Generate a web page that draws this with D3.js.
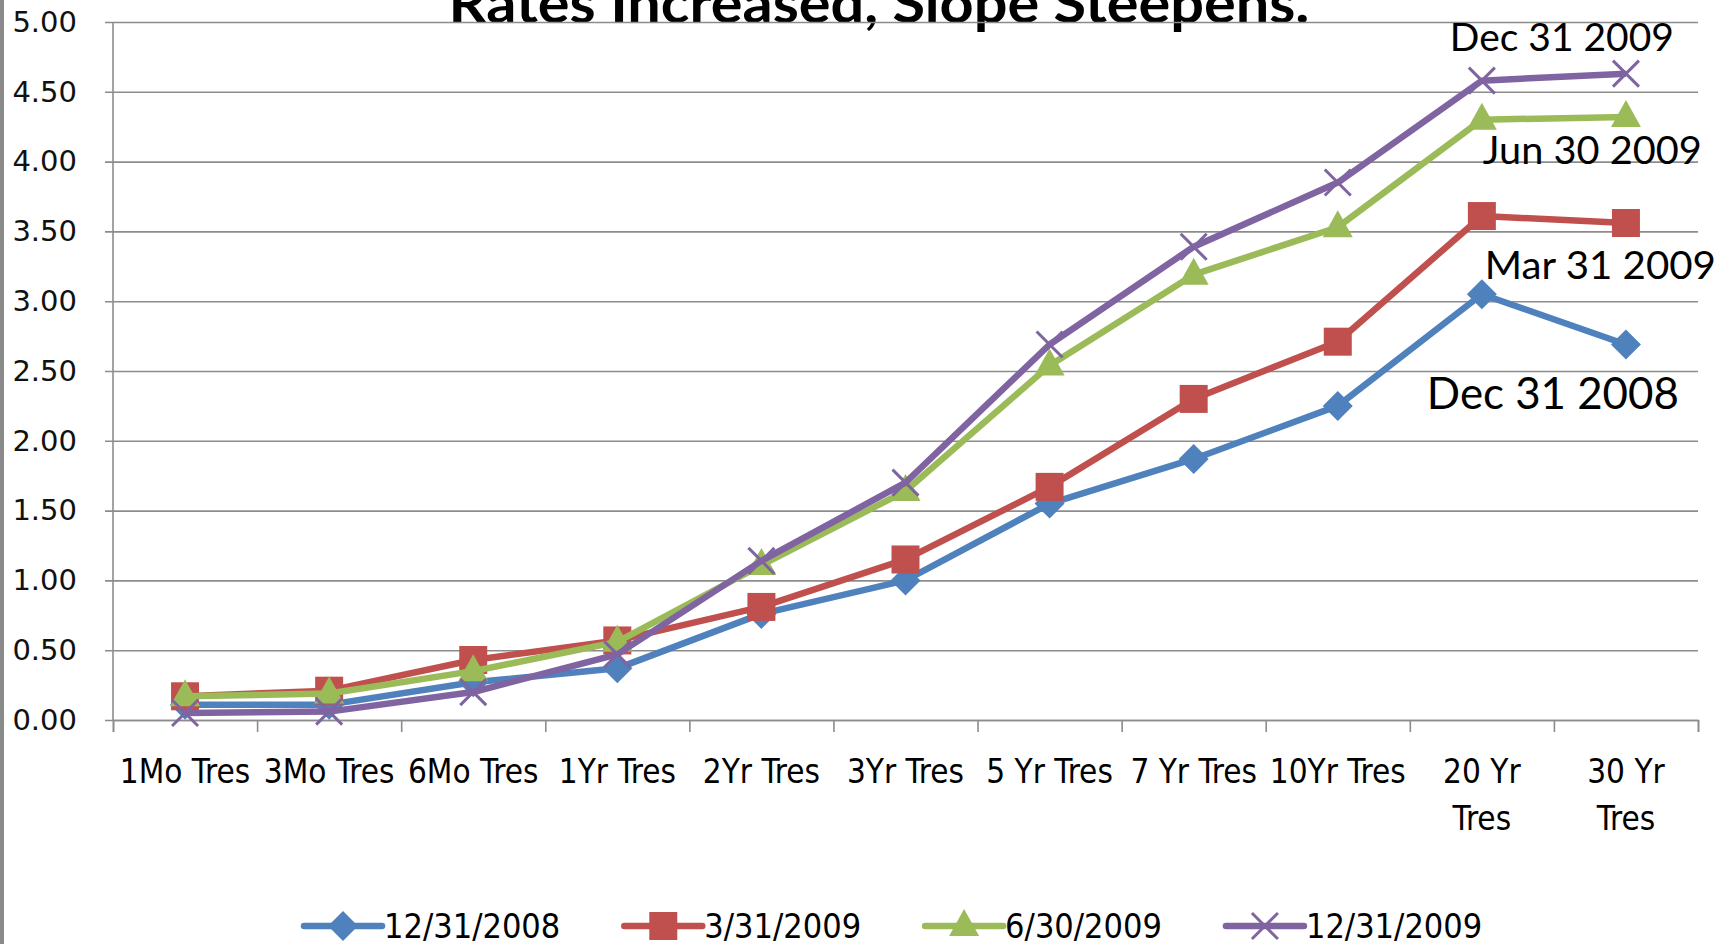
<!DOCTYPE html>
<meta charset="utf-8">
<script src="https://cdn.jsdelivr.net/npm/d3@7"></script>
<style>
  body { margin: 0; background: #fff; }
  svg { display: block; }
</style>
<body>
<script>

var width = 1735
var height = 944

// data
var categories = ["1Mo Tres", "3Mo Tres", "6Mo Tres", "1Yr Tres", "2Yr Tres", "3Yr Tres", "5 Yr Tres", "7 Yr Tres", "10Yr Tres", "20 Yr Tres", "30 Yr Tres"]
var categoryLines = [["1Mo Tres"], ["3Mo Tres"], ["6Mo Tres"], ["1Yr Tres"], ["2Yr Tres"], ["3Yr Tres"], ["5 Yr Tres"], ["7 Yr Tres"], ["10Yr Tres"], ["20 Yr", "Tres"], ["30 Yr", "Tres"]]
var seriesNames = ["12/31/2008", "3/31/2009", "6/30/2009", "12/31/2009"]
var dec2008 = [0.11, 0.11, 0.27, 0.37, 0.76, 1.00, 1.55, 1.87, 2.25, 3.05, 2.69]
var mar2009 = [0.17, 0.21, 0.43, 0.57, 0.81, 1.15, 1.67, 2.30, 2.71, 3.61, 3.56]
var jun2009 = [0.17, 0.19, 0.35, 0.56, 1.11, 1.64, 2.54, 3.19, 3.53, 4.30, 4.32]
var dec2009 = [0.05, 0.06, 0.20, 0.47, 1.14, 1.70, 2.69, 3.39, 3.85, 4.58, 4.63]
var yTicks = [0, 0.5, 1, 1.5, 2, 2.5, 3, 3.5, 4, 4.5, 5]
var title = "Rates Increased, Slope Steepens."
var callouts = ["Dec 31 2009", "Jun 30 2009", "Mar 31 2009", "Dec 31 2008"]

var colors = ["#4f81bd", "#c0504d", "#9bbb59", "#8064a2"]
var shapes = ["diamond", "square", "triangle", "x"]
var allSeries = [dec2008, mar2009, jun2009, dec2009]

var plotLeft = 113, plotRight = 1698, plotTop = 22, plotBottom = 720

var x = d3.scaleBand().domain(categories).range([plotLeft, plotRight])
var xEdge = d3.scaleLinear().domain([0, categories.length]).range([plotLeft, plotRight])
var y = d3.scaleLinear().domain([0, 5]).range([plotBottom, plotTop])

var svg = d3.select("body").append("svg")
  .attr("width", width)
  .attr("height", height)

// grey border on the left
svg.append("rect").attr("x", 0).attr("y", 0).attr("width", 4).attr("height", height).attr("fill", "#8a8a8a")

// title, cut off by top edge
svg.append("text")
  .attr("x", 879).attr("y", 23)
  .attr("text-anchor", "middle")
  .attr("textLength", 861).attr("lengthAdjust", "spacingAndGlyphs")
  .style("font-family", "Lato, 'Open Sans', sans-serif")
  .style("font-weight", "bold")
  .style("font-size", "56px")
  .text(title)

// gridlines
svg.append("g")
  .attr("transform", "translate(" + (plotLeft - 8) + ",0)")
  .call(d3.axisLeft(y).tickValues(yTicks).tickSize(-(plotRight - plotLeft + 8)).tickFormat(""))
  .call(g => g.select(".domain").remove())
  .selectAll("line").attr("stroke", "#8c8c8c").attr("stroke-width", 1.6)

// y labels
svg.append("g")
  .attr("transform", "translate(" + plotLeft + ",0)")
  .call(d3.axisLeft(y).tickValues(yTicks).tickSize(0).tickPadding(36).tickFormat(d3.format(".2f")))
  .call(g => g.select(".domain").remove())
  .selectAll("text")
  .attr("fill", "#111")
  .style("font-family", "'DejaVu Sans', sans-serif")
  .style("font-size", "29px")

// y axis line
svg.append("line").attr("x1", plotLeft).attr("x2", plotLeft).attr("y1", plotTop).attr("y2", plotBottom)
  .attr("stroke", "#8c8c8c").attr("stroke-width", 1.6)

// x axis with ticks at category edges
svg.append("g")
  .attr("transform", "translate(0," + plotBottom + ")")
  .call(d3.axisBottom(xEdge).ticks(categories.length).tickSize(12).tickSizeOuter(12).tickFormat(""))
  .call(g => g.select(".domain").attr("stroke", "#8c8c8c").attr("stroke-width", 1.6))
  .selectAll("line").attr("stroke", "#8c8c8c").attr("stroke-width", 1.6)

// x labels
var xl = svg.append("g")
  .attr("transform", "translate(0," + plotBottom + ")")
  .call(d3.axisBottom(x).tickSize(0).tickFormat(""))
xl.select(".domain").remove()
xl.selectAll(".tick").each(function(d, i) {
  var t = d3.select(this).append("text")
    .attr("fill", "#000")
    .attr("text-anchor", "middle")
    .style("font-family", "'DejaVu Sans Condensed', 'DejaVu Sans', sans-serif")
    .style("font-stretch", "condensed")
    .style("font-size", "33px")
  categoryLines[i].forEach(function(line, j) {
    t.append("tspan").attr("x", 0).attr("y", 63 + j * 47).text(line)
  })
})

function symbolPath(shape) {
  if (shape == "diamond") return "M0,-15L15,0L0,15L-15,0Z"
  if (shape == "square") return "M-14,-14H14V14H-14Z"
  if (shape == "triangle") return "M0,-17L15,10H-15Z"
  return "M-13,-13L13,13M-13,13L13,-13"
}

function drawMarker(g, shape, color) {
  var p = g.append("path").attr("d", symbolPath(shape))
  if (shape == "x") p.attr("fill", "none").attr("stroke", color).attr("stroke-width", 3)
  else p.attr("fill", color).attr("stroke", "none")
}

var line = d3.line()
  .x(function(d, i) { return x(categories[i]) + x.bandwidth() / 2 })
  .y(function(d) { return y(d) })

allSeries.forEach(function(vals, s) {
  var g = svg.append("g")
  g.append("path").attr("d", line(vals))
    .attr("fill", "none").attr("stroke", colors[s]).attr("stroke-width", 6.5)
    .attr("stroke-linejoin", "round")
  vals.forEach(function(v, i) {
    var m = g.append("g").attr("transform", "translate(" + (x(categories[i]) + x.bandwidth() / 2) + "," + y(v) + ")")
    drawMarker(m, shapes[s], colors[s])
  })
})

// callouts
var calloutFont = "Lato, 'Open Sans', sans-serif"
var cx = x("20 Yr Tres") + x.bandwidth() / 2
var calloutSpec = [
  { dx: -32, y: 51, size: 39, len: 224 },
  { dx: 1, y: 164, size: 39, len: 219 },
  { dx: 3, y: 279, size: 39, len: 231 },
  { dx: -55, y: 409, size: 44, len: 252 }
]
callouts.forEach(function(c, i) {
  var sp = calloutSpec[i]
  svg.append("text")
    .attr("x", cx + sp.dx).attr("y", sp.y)
    .attr("textLength", sp.len).attr("lengthAdjust", "spacingAndGlyphs")
    .style("font-family", calloutFont)
    .style("font-size", sp.size + "px")
    .attr("fill", "#000")
    .text(c)
})

// legend
var legend = svg.append("g").attr("transform", "translate(0,926)")
var lx = 304
seriesNames.forEach(function(name, s) {
  var g = legend.append("g").attr("transform", "translate(" + lx + ",0)")
  g.append("line").attr("x1", 0).attr("x2", 78).attr("y1", 0).attr("y2", 0)
    .attr("stroke", colors[s]).attr("stroke-width", 6.5).attr("stroke-linecap", "round")
  var m = g.append("g").attr("transform", "translate(39,0)")
  drawMarker(m, shapes[s], colors[s])
  var t = g.append("text").attr("x", 80).attr("y", 12)
    .style("font-family", "'DejaVu Sans Condensed', 'DejaVu Sans', sans-serif")
    .style("font-stretch", "condensed")
    .style("font-size", "34px")
    .attr("fill", "#000")
    .text(name)
  lx += 80 + t.node().getComputedTextLength() + 64
})

</script>
</body>
